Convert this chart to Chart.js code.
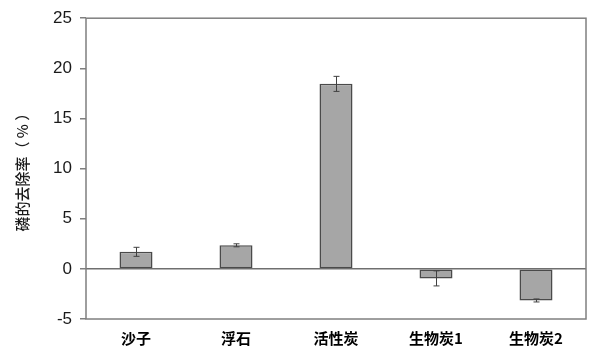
<!DOCTYPE html>
<html>
<head>
<meta charset="utf-8">
<script src="https://cdn.jsdelivr.net/npm/chart.js@4"></script>
<style>
  html, body { margin: 0; padding: 0; background: #fff; }
  #wrap { width: 600px; height: 362px; }
</style>
</head>
<body>
<div id="wrap"><canvas id="c" width="600" height="362"></canvas></div>
<script>
// Phosphorus removal rate by filter medium
const categories = ['沙子', '浮石', '活性炭', '生物炭1', '生物炭2'];
const removalRate = [1.7, 2.35, 18.45, -0.95, -3.15];
const errorSize = [0.45, 0.15, 0.75, 0.75, 0.15];
const yTicks = [-5, 0, 5, 10, 15, 20, 25];

const cjk = '"Noto Sans CJK SC", "Liberation Sans", Arial, sans-serif';
const latin = '"Liberation Sans", Arial, sans-serif';

// Frame around the plot area
const framePlugin = {
  id: 'frame',
  afterDatasetsDraw(chart) {
    const { ctx, chartArea: a } = chart;
    ctx.save();
    ctx.strokeStyle = '#7f7f7f';
    ctx.lineWidth = 1.5;
    ctx.strokeRect(a.left, a.top, a.right - a.left, a.bottom - a.top);
    ctx.restore();
  }
};

// Error bars from errorSize, placed via the chart's scales
const errorBarPlugin = {
  id: 'errorBars',
  afterDatasetsDraw(chart) {
    const { ctx } = chart;
    const meta = chart.getDatasetMeta(0);
    const y = chart.scales.y;
    ctx.save();
    ctx.strokeStyle = '#404040';
    ctx.lineWidth = 1;
    meta.data.forEach((bar, i) => {
      const v = removalRate[i], e = errorSize[i];
      const x = Math.round(bar.x) + 0.5;
      const yHi = y.getPixelForValue(v + e);
      const yLo = y.getPixelForValue(v - e);
      const cap = 3;
      ctx.beginPath();
      ctx.moveTo(x, yHi); ctx.lineTo(x, yLo);
      ctx.moveTo(x - cap, yHi); ctx.lineTo(x + cap, yHi);
      ctx.moveTo(x - cap, yLo); ctx.lineTo(x + cap, yLo);
      ctx.stroke();
    });
    ctx.restore();
  }
};

new Chart(document.getElementById('c'), {
  type: 'bar',
  data: {
    labels: categories,
    datasets: [{
      data: removalRate,
      backgroundColor: '#a6a6a6',
      borderColor: '#4a4a4a',
      borderWidth: 1.5,
      borderSkipped: false,
      inflateAmount: 0,
      categoryPercentage: 1,
      barPercentage: 0.33
    }]
  },
  options: {
    responsive: false,
    animation: false,
    devicePixelRatio: 1,
    layout: { padding: { top: 15, right: 14, left: 0, bottom: 0 } },
    plugins: {
      legend: { display: false },
      tooltip: { enabled: false }
    },
    scales: {
      x: {
        afterFit(scale) { scale.height = 43; },
        grid: { display: false, drawTicks: false },
        border: { display: false },
        ticks: {
          padding: 10,
          color: '#000',
          font: { family: cjk, size: 15, weight: 'bold' }
        }
      },
      y: {
        min: -5,
        max: 25,
        afterFit(scale) { scale.width = 86; },
        afterBuildTicks(scale) { scale.ticks = yTicks.map(v => ({ value: v })); },
        grid: {
          drawOnChartArea: true,
          color: ctx => (ctx.tick && ctx.tick.value === 0 ? '#6f6f6f' : 'rgba(0,0,0,0)'),
          lineWidth: 1.5,
          tickColor: '#7f7f7f',
          tickLength: 6
        },
        border: { display: false },
        ticks: {
          padding: 8,
          color: '#1a1a1a',
          font: { family: latin, size: 17 }
        },
        title: {
          display: true,
          text: '磷的去除率（ % ）',
          color: '#1a1a1a',
          padding: { top: 13, bottom: 0 },
          font: { family: cjk, size: 15, weight: '500' }
        }
      }
    }
  },
  plugins: [framePlugin, errorBarPlugin]
});
</script>
</body>
</html>
